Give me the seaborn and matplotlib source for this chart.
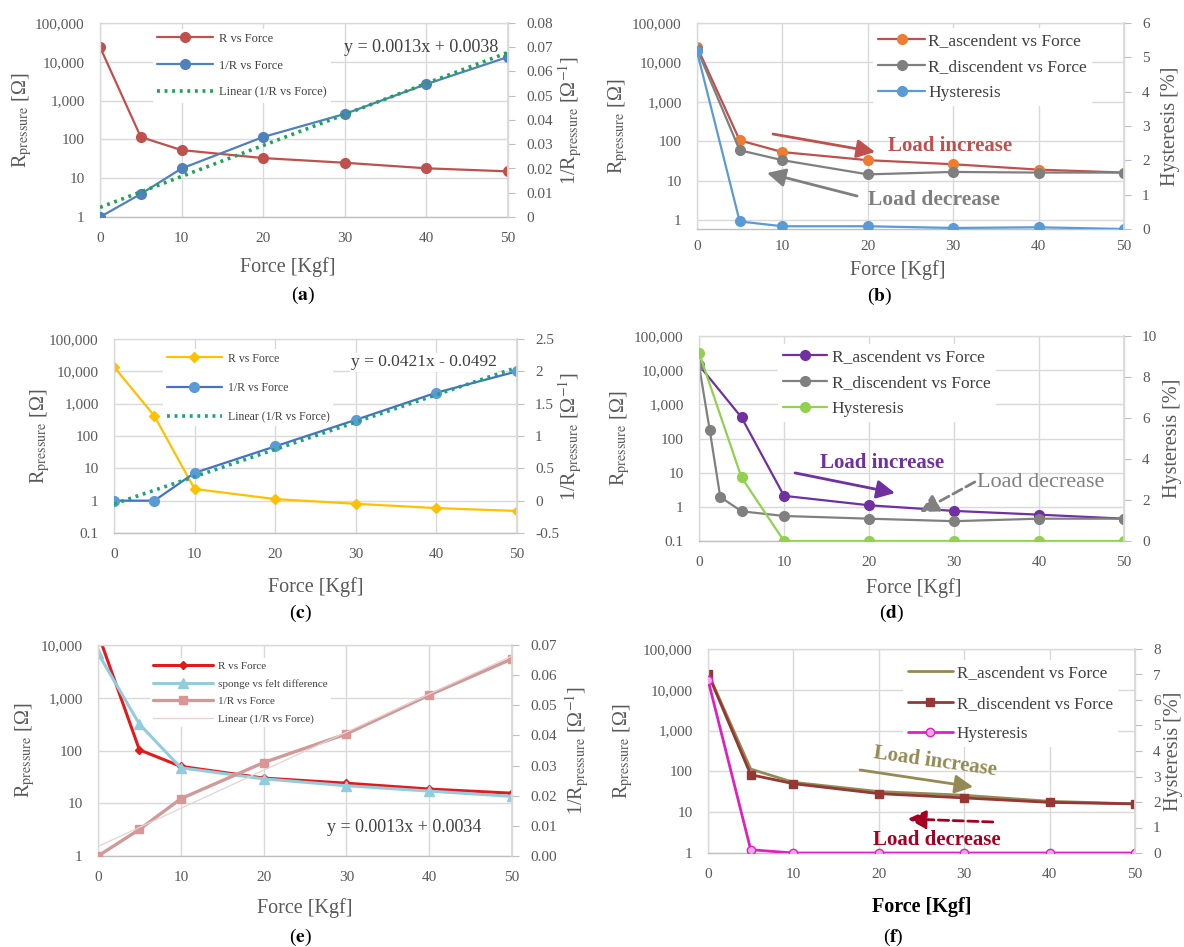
import numpy as np
import seaborn as sns
import matplotlib.pyplot as plt
from matplotlib.ticker import FuncFormatter, FixedLocator, NullLocator

## Datos
force = [0, 5, 10, 20, 30, 40, 50]
force_d_desc = [0, 1.25, 2.5, 5, 10, 20, 30, 40, 50]

# (a)
a_r = [24000, 115, 53, 33, 25, 18, 15]
a_inv = [0.0, 0.0095, 0.020, 0.033, 0.0425, 0.0548, 0.066]
# (b)
b_asc = [25000, 105, 53, 33, 26, 19, 16]
b_desc = [22000, 59, 33, 14.4, 16.6, 16, 16]
b_hyst = [5.17, 0.22, 0.08, 0.08, 0.03, 0.05, 0.0]
# (c)
c_r = [13800, 420, 2.3, 1.12, 0.8, 0.59, 0.48]
c_inv = [0.0, 0.0, 0.43, 0.84, 1.25, 1.67, 2.0]
# (d)
d_asc = [14000, 415, 2.1, 1.11, 0.76, 0.59, 0.45]
d_desc = [14000, 183, 1.95, 0.74, 0.54, 0.45, 0.38, 0.45, 0.45]
d_hyst = [9.19, 3.1, 0, 0, 0, 0, 0]
# (e)
e_r = [16500, 103, 50, 30, 24, 18.6, 15.5]
e_sponge = [7000, 316, 47, 29, 21.5, 17, 13.5]
e_inv = [0.0, 0.0088, 0.019, 0.031, 0.0405, 0.0534, 0.0654]
# (f)
f_asc = [26000, 114, 54, 32, 26, 18.5, 16]
f_desc = [25000, 83, 50, 28.5, 22.4, 17.4, 16]
f_hyst = [6.79, 0.13, 0, 0, 0, 0, 0]

x_ticks = [0, 10, 20, 30, 40, 50]
log_ticks_1 = [1, 10, 100, 1000, 10000, 100000]
log_ticks_01 = [0.1, 1, 10, 100, 1000, 10000, 100000]
log_ticks_e = [1, 10, 100, 1000, 10000]

## Estilo general
sns.set_theme(style="whitegrid")
plt.rcParams['font.family'] = ['Liberation Serif', 'DejaVu Serif']
plt.rcParams['mathtext.fontset'] = 'stix'

W, H = 1184, 947
fig = plt.figure(figsize=(W / 100, H / 100), dpi=100)

GRID = '#d9d9d9'
TICK = '#595959'
R_LABEL = r'R$_{\rm pressure}$ [Ω]'
INV_LABEL = r'1/R$_{\rm pressure}$ [Ω$^{-1}$]'


def px_axes(left, right, top, bottom):
    return fig.add_axes([left / W, 1 - bottom / H, (right - left) / W, (bottom - top) / H])


def log_fmt(v, pos):
    return f'{v:,.0f}' if v >= 1 else f'{v:g}'


def style_pair(ax, ax2, ylim, yticks, ylim2, yticks2, fmt2):
    ax.set_xlim(0, 50)
    ax.set_xticks(x_ticks)
    ax.set_ylim(*ylim)
    ax.yaxis.set_major_locator(FixedLocator(yticks))
    ax.yaxis.set_minor_locator(NullLocator())
    ax.yaxis.set_major_formatter(FuncFormatter(log_fmt))
    ax.grid(True, color=GRID, lw=1)
    ax.tick_params(axis='both', length=0, pad=11, labelsize=11, labelcolor=TICK)
    ax2.set_ylim(*ylim2)
    ax2.set_yticks(yticks2)
    ax2.yaxis.set_major_formatter(FuncFormatter(fmt2))
    ax2.grid(False)
    ax2.tick_params(axis='y', length=5, width=0.8, color='#bfbfbf', pad=8,
                    labelsize=11, labelcolor=TICK)
    for s in ax.spines.values():
        s.set_color(GRID)
        s.set_linewidth(1)
    ax.spines['bottom'].set_color('#bfbfbf')
    for k in ['top', 'bottom', 'left']:
        ax2.spines[k].set_visible(False)
    ax2.spines['right'].set_color(GRID)


def labels(ax, ax2, xl, yl, yr, right_text, xbold=False):
    ax.set_xlabel('Force [Kgf]', fontsize=14.5, color='black' if xbold else TICK,
                  fontweight='bold' if xbold else 'normal')
    ax.xaxis.set_label_coords(*xl)
    ax.xaxis.label.set_va('center')
    ax.set_ylabel(R_LABEL, fontsize=14.5, color=TICK)
    ax.yaxis.set_label_coords(yl, 0.5)
    ax.yaxis.label.set_va('center')
    ax2.set_ylabel(right_text, fontsize=14.5, color=TICK)
    ax2.yaxis.set_label_coords(yr, 0.5)
    ax2.yaxis.label.set_va('center')


def legend(ax, ax2, anchor, fs, spacing, hlen, pad):
    h1, l1 = ax.get_legend_handles_labels()
    h2, l2 = ax2.get_legend_handles_labels()
    leg = ax2.legend(h1 + h2, l1 + l2, loc='upper left', bbox_to_anchor=anchor,
                     fontsize=fs, labelspacing=spacing, handlelength=hlen,
                     handletextpad=pad, borderaxespad=0, borderpad=0.3,
                     frameon=True, framealpha=1, facecolor='white',
                     edgecolor='none', fancybox=False)
    for t in leg.get_texts():
        t.set_color('#404040')


def line(ax, x, y, color, label, marker='o', ms=7, mfc=None, mec=None, lw=1.6):
    sns.lineplot(x=x, y=y, ax=ax, color=color, marker=marker, markersize=ms,
                 markerfacecolor=mfc or color, markeredgecolor=mec or color,
                 markeredgewidth=1, lw=lw, label=label, legend=False, sort=False)


def arrow(ax, tip, tail, color, ls='-', lw=2):
    ax.annotate('', xy=tip, xytext=tail, xycoords='axes fraction',
                arrowprops=dict(arrowstyle='-|>,head_length=0.55,head_width=0.28',
                                color=color, lw=lw, ls=ls, mutation_scale=20,
                                shrinkA=0, shrinkB=0))


DOT = (0, (0.8, 1.3))

# ---------------- (a) ----------------
ax = px_axes(100, 508, 23, 217)
ax.set_yscale('log')
ax2 = ax.twinx()
line(ax, force, a_r, '#C0504D', 'R vs Force')
line(ax2, force, a_inv, '#4F81BD', '1/R vs Force')
sns.regplot(x=np.array(force), y=np.array(a_inv), ax=ax2, scatter=False, ci=None,
            color='#1FA355', label='Linear (1/R vs Force)',
            line_kws=dict(ls=DOT, lw=2.6, label='Linear (1/R vs Force)'))
style_pair(ax, ax2, (1, 1e5), log_ticks_1, (0, 0.08),
           [0, 0.01, 0.02, 0.03, 0.04, 0.05, 0.06, 0.07, 0.08],
           lambda v, p: '0' if abs(v) < 1e-9 else f'{v:.2f}')
labels(ax, ax2, (0.46, -0.258), -0.19, 1.152, INV_LABEL)
legend(ax, ax2, (0.13, 0.969), 9, 1.2, 4.5, 0.5)
ax.text(0.975, 0.876, 'y = 0.0013x + 0.0038', transform=ax.transAxes,
        ha='right', va='center', fontsize=13, color='#404040')

# ---------------- (b) ----------------
ax = px_axes(697, 1124, 23, 229)
ax.set_yscale('log')
ax2 = ax.twinx()
line(ax, force, b_asc, '#C0504D', 'R_ascendent vs Force', mfc='#ED7D31', mec='#ED7D31')
line(ax, force, b_desc, '#7F7F7F', 'R_discendent vs Force')
line(ax2, force, b_hyst, '#5B9BD5', 'Hysteresis')
style_pair(ax, ax2, (10 ** -0.228, 1e5), log_ticks_1, (0, 6), range(0, 7),
           lambda v, p: f'{v:g}')
ax.tick_params(axis='x', pad=8)
labels(ax, ax2, (0.47, -0.2), -0.185, 1.108, 'Hysteresis [%]')
legend(ax, ax2, (0.412, 0.976), 12.5, 0.55, 2.7, 0.2)
arrow(ax, (0.417, 0.374), (0.178, 0.461), '#C0504D')
ax.text(0.447, 0.403, 'Load increase', transform=ax.transAxes, ha='left',
        va='center', fontsize=15, fontweight='bold', color='#C0504D')
arrow(ax, (0.164, 0.272), (0.375, 0.160), '#7F7F7F')
ax.text(0.40, 0.141, 'Load decrease', transform=ax.transAxes, ha='left',
        va='center', fontsize=15.5, fontweight='bold', color='#7F7F7F')

# ---------------- (c) ----------------
ax = px_axes(114, 517, 339, 533)
ax.set_yscale('log')
ax2 = ax.twinx()
line(ax, force, c_r, '#FFC000', 'R vs Force', marker='D', ms=5)
line(ax2, force, c_inv, '#4472C4', '1/R vs Force', mfc='#5B9BD5', mec='#5B9BD5')
sns.regplot(x=np.array(force), y=np.array(c_inv), ax=ax2, scatter=False, ci=None,
            color='#1FA37A', label='Linear (1/R vs Force)',
            line_kws=dict(ls=DOT, lw=2.6, label='Linear (1/R vs Force)'))
style_pair(ax, ax2, (0.1, 1e5), log_ticks_01, (-0.5, 2.5),
           [-0.5, 0, 0.5, 1, 1.5, 2, 2.5], lambda v, p: f'{v:g}')
labels(ax, ax2, (0.5, -0.28), -0.184, 1.131, INV_LABEL)
legend(ax, ax2, (0.122, 0.948), 8.5, 1.45, 4.7, 0.5)
ax.text(0.95, 0.88, 'y = 0.0421x - 0.0492', transform=ax.transAxes,
        ha='right', va='center', fontsize=12.5, color='#404040',
        bbox=dict(facecolor='white', edgecolor='none', pad=1))

# ---------------- (d) ----------------
ax = px_axes(699, 1124, 336, 541)
ax.set_yscale('log')
ax2 = ax.twinx()
line(ax, force, d_asc, '#7030A0', 'R_ascendent vs Force')
line(ax, force_d_desc, d_desc, '#808080', 'R_discendent vs Force')
line(ax2, force, d_hyst, '#92D050', 'Hysteresis')
style_pair(ax, ax2, (0.1, 1e5), log_ticks_01, (0, 10), range(0, 11, 2),
           lambda v, p: f'{v:g}')
labels(ax, ax2, (0.506, -0.23), -0.186, 1.115, 'Hysteresis [%]')
legend(ax, ax2, (0.186, 0.961), 12.5, 0.55, 2.5, 0.3)
arrow(ax, (0.461, 0.234), (0.226, 0.332), '#7030A0')
ax.text(0.285, 0.38, 'Load increase', transform=ax.transAxes, ha='left',
        va='center', fontsize=15, fontweight='bold', color='#7030A0')
arrow(ax, (0.52, 0.141), (0.649, 0.288), '#808080', ls='--')
ax.text(0.654, 0.283, 'Load decrease', transform=ax.transAxes, ha='left',
        va='center', fontsize=16, color='#808080')

# ---------------- (e) ----------------
ax = px_axes(98, 512, 645, 856)
ax.set_yscale('log')
ax2 = ax.twinx()
line(ax, force, e_r, '#E31A1C', 'R vs Force', marker='D', ms=4, lw=2.2)
line(ax, force, e_sponge, '#93CDDD', 'sponge vs felt difference', marker='^', ms=7, lw=2.2)
line(ax2, force, e_inv, '#D09A98', '1/R vs Force', marker='s', ms=6,
     mfc='#D99694', mec='#D99694', lw=2.4)
sns.regplot(x=np.array(force), y=np.array(e_inv), ax=ax2, scatter=False, ci=None,
            color='#E8D2D2', label='Linear (1/R vs Force)',
            line_kws=dict(lw=0.9, label='Linear (1/R vs Force)'))
style_pair(ax, ax2, (1, 1e4), log_ticks_e, (0, 0.07),
           [0, 0.01, 0.02, 0.03, 0.04, 0.05, 0.06, 0.07], lambda v, p: f'{v:.2f}')
labels(ax, ax2, (0.5, -0.246), -0.176, 1.157, INV_LABEL)
legend(ax, ax2, (0.126, 0.938), 8, 0.7, 5.4, 0.4)
ax.text(0.553, 0.137, 'y = 0.0013x + 0.0034', transform=ax.transAxes,
        ha='left', va='center', fontsize=13, color='#404040')

# ---------------- (f) ----------------
ax = px_axes(708, 1135, 649, 853)
ax.set_yscale('log')
ax2 = ax.twinx()
sns.lineplot(x=force, y=f_asc, ax=ax, color='#948A54', lw=2,
             label='R_ascendent vs Force', legend=False, sort=False)
line(ax, force, f_desc, '#953735', 'R_discendent vs Force', marker='s', ms=6, lw=2)
line(ax2, force, f_hyst, '#E020C0', 'Hysteresis', ms=6, mfc='#F4A6E6', mec='#E020C0', lw=2)
style_pair(ax, ax2, (1, 1e5), log_ticks_1, (0, 8), range(0, 9),
           lambda v, p: f'{v:g}')
labels(ax, ax2, (0.5, -0.265), -0.2, 1.089, 'Hysteresis [%]', xbold=True)
legend(ax, ax2, (0.457, 0.946), 12.3, 0.85, 2.6, 0.25)
ax.text(0.532, 0.446, 'Load increase', transform=ax.transAxes, ha='center',
        va='center', fontsize=15, fontweight='bold', color='#948A54', rotation=-8)
arrow(ax, (0.621, 0.324), (0.356, 0.407), '#948A54')
arrow(ax, (0.468, 0.167), (0.667, 0.152), '#A50021', ls='--')
ax.text(0.386, 0.064, 'Load decrease', transform=ax.transAxes, ha='left',
        va='center', fontsize=15, fontweight='bold', color='#A50021')

## Etiquetas de los paneles
for txt, x, y in [('a', 303, 295), ('b', 880, 296), ('c', 300, 613),
                  ('d', 892, 613), ('e', 300, 937), ('f', 893, 937)]:
    fig.text(x / W, 1 - y / H, r'($\mathbf{' + txt + '}$)', ha='center',
             va='center', fontsize=14, color='black')

fig.savefig('out.png', dpi=100)
